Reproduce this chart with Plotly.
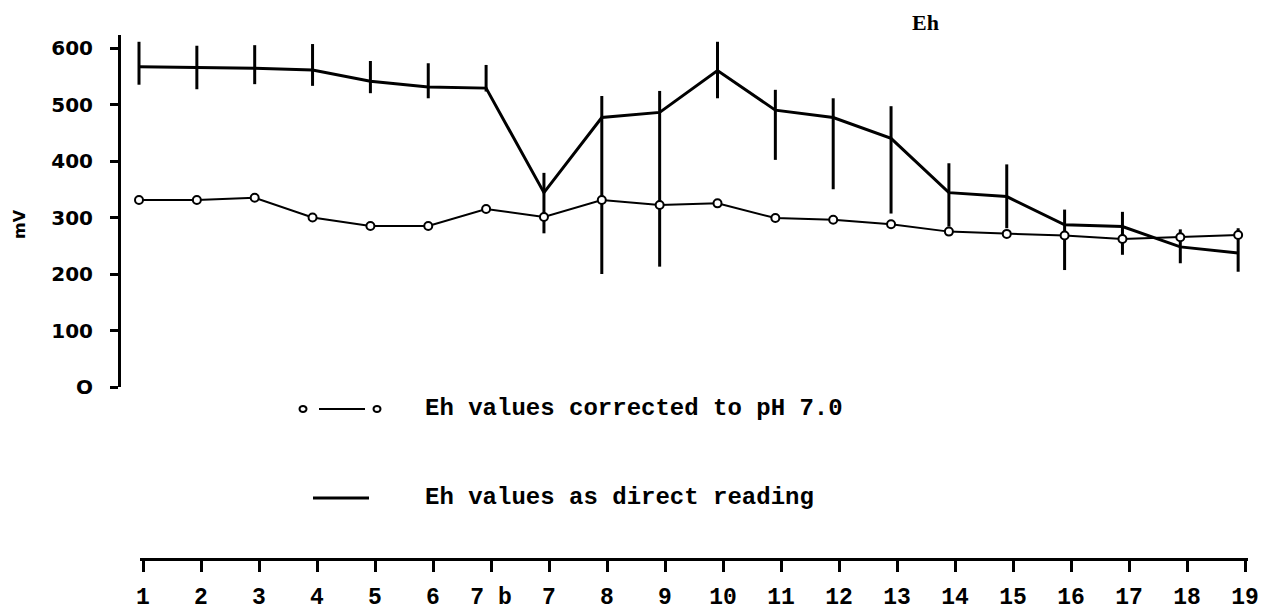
import plotly.graph_objects as go

W, H = 1280, 612

# Sampling stations along the transect
stations = ["1", "2", "3", "4", "5", "6", "7 b", "7", "8", "9",
            "10", "11", "12", "13", "14", "15", "16", "17", "18", "19"]

# Eh read directly from the electrode (mV): mean with the range of readings
eh_direct = [567, 566, 564, 561, 541, 531, 529, 344, 477, 486,
             560, 490, 477, 440, 344, 337, 287, 284, 248, 237]
eh_direct_high = [611, 604, 605, 607, 577, 573, 570, 379, 515, 524,
                  611, 526, 511, 497, 396, 394, 314, 310, 279, 281]
eh_direct_low = [535, 527, 536, 533, 520, 511, 523, 272, 200, 213,
                 511, 402, 350, 307, 284, 281, 207, 234, 219, 204]

# Eh corrected to pH 7.0 (mV)
eh_corrected = [331, 331, 335, 300, 285, 285, 315, 301, 331, 322,
                325, 299, 296, 288, 275, 271, 268, 262, 265, 269]

y_ticks = [0, 100, 200, 300, 400, 500, 600]
y_tick_text = ["O", "100", "200", "300", "400", "500", "600"]


def px_x(p):
    return p / W


def px_y(p):
    return 1 - p / H


err_plus = [h - m for h, m in zip(eh_direct_high, eh_direct)]
err_minus = [m - l for m, l in zip(eh_direct, eh_direct_low)]

fig = go.Figure()

fig.add_trace(go.Scatter(
    x=stations, y=eh_direct, mode="lines",
    line=dict(color="black", width=3),
    error_y=dict(type="data", symmetric=False, array=err_plus,
                 arrayminus=err_minus, width=0, thickness=3, color="black"),
    xaxis="x", yaxis="y", showlegend=False,
))

fig.add_trace(go.Scatter(
    x=stations, y=eh_corrected, mode="lines+markers",
    line=dict(color="black", width=2),
    marker=dict(symbol="circle", size=8, color="white",
                line=dict(color="black", width=2)),
    xaxis="x", yaxis="y", showlegend=False,
))

# Station axis drawn separately beneath the legend
fig.add_trace(go.Scatter(
    x=stations, y=[None] * len(stations), mode="markers",
    xaxis="x2", yaxis="y2", showlegend=False, hoverinfo="skip",
))

pitch_top = 57.85
x0_top = 139
pitch_bot = 58.0
x0_bot = 143
left_top, right_top = 121, 1250
left_bot, right_bot = 140, 1248

mono = "Liberation Mono"

fig.update_layout(
    width=W, height=H, autosize=False,
    margin=dict(l=0, r=0, t=0, b=0, pad=0, autoexpand=False),
    paper_bgcolor="white", plot_bgcolor="white",
    xaxis=dict(
        domain=[px_x(left_top), px_x(right_top)],
        type="category", categoryorder="array", categoryarray=stations,
        range=[-(x0_top - left_top) / pitch_top, (right_top - x0_top) / pitch_top],
        visible=False, anchor="y", automargin=False,
    ),
    yaxis=dict(
        domain=[px_y(387), px_y(35)],
        range=[0, (387 - 35) / 0.5650],
        tickvals=y_ticks, ticktext=y_tick_text,
        showline=True, linecolor="black", linewidth=3,
        ticks="outside", ticklen=8, tickwidth=2.5, tickcolor="black",
        showgrid=False, zeroline=False,
        tickfont=dict(family="DejaVu Sans", size=20, color="black", weight="bold"),
        ticklabelstandoff=13,
        anchor="x", automargin=False,
    ),
    xaxis2=dict(
        domain=[px_x(left_bot), px_x(right_bot)],
        type="category", categoryorder="array", categoryarray=stations,
        range=[-(x0_bot - left_bot) / pitch_bot, (right_bot - x0_bot) / pitch_bot],
        tickmode="array", tickvals=stations, ticktext=stations,
        showline=True, linecolor="black", linewidth=3,
        ticks="outside", ticklen=11, tickwidth=2.5, tickcolor="black",
        showgrid=False, zeroline=False,
        tickfont=dict(family=mono, size=23, color="black", weight="bold"),
        ticklabelstandoff=4,
        anchor="y2", automargin=False,
    ),
    yaxis2=dict(
        domain=[px_y(558), px_y(530)],
        visible=False, range=[0, 1], anchor="x2", automargin=False,
    ),
    showlegend=False,
)

# Legend keys
shapes = [
    dict(type="line", xref="paper", yref="paper",
         x0=px_x(319), x1=px_x(365), y0=px_y(409), y1=px_y(409),
         line=dict(color="black", width=2)),
    dict(type="line", xref="paper", yref="paper",
         x0=px_x(313), x1=px_x(369), y0=px_y(498), y1=px_y(498),
         line=dict(color="black", width=3)),
]
for cx in (303, 377):
    shapes.append(dict(
        type="circle", xref="paper", yref="paper",
        xsizemode="pixel", ysizemode="pixel",
        xanchor=px_x(cx), yanchor=px_y(409),
        x0=-3.5, x1=3.5, y0=-3, y1=3,
        line=dict(color="black", width=2), fillcolor="white",
    ))
fig.update_layout(shapes=shapes)

annotations = [
    dict(text="Eh values corrected to pH 7.0", x=px_x(423), y=px_y(408),
         xanchor="left", yanchor="middle"),
    dict(text="Eh values as direct reading", x=px_x(423), y=px_y(497),
         xanchor="left", yanchor="middle"),
]
for a in annotations:
    a.update(xref="paper", yref="paper", showarrow=False,
             font=dict(family=mono, size=24, color="black", weight="bold"))
fig.update_layout(annotations=annotations)

fig.add_annotation(
    text="Eh", x=px_x(925), y=px_y(23), xref="paper", yref="paper",
    xanchor="center", yanchor="middle", showarrow=False,
    font=dict(family="Liberation Serif", size=22, color="black", weight="bold"),
)

fig.add_annotation(
    text="mV", x=px_x(19), y=px_y(224), xref="paper", yref="paper",
    xanchor="center", yanchor="middle", showarrow=False, textangle=-90,
    font=dict(family="DejaVu Sans", size=16, color="black", weight="bold"),
)

fig.write_html("out.html")
